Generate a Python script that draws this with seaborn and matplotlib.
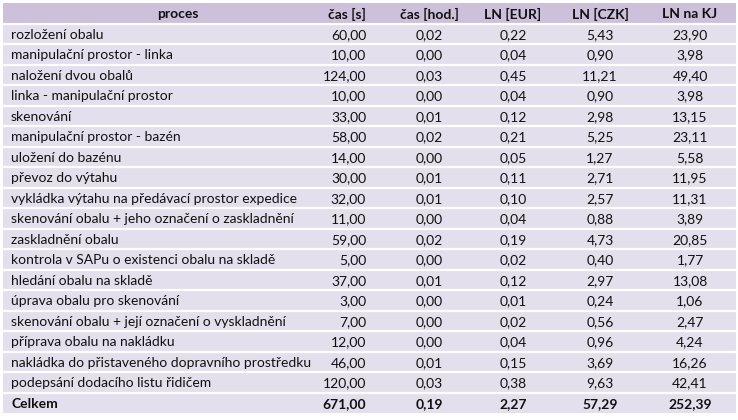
import numpy as np
import pandas as pd
import matplotlib
matplotlib.use("Agg")
import matplotlib.pyplot as plt
from matplotlib.colors import ListedColormap
import seaborn as sns

# table data
columns = ["proces", "čas [s]", "čas [hod.]", "LN [EUR]", "LN [CZK]", "LN na KJ"]
procesy = [
    "rozložení obalu",
    "manipulační prostor - linka",
    "naložení dvou obalů",
    "linka - manipulační prostor",
    "skenování",
    "manipulační prostor - bazén",
    "uložení do bazénu",
    "převoz do výtahu",
    "vykládka výtahu na předávací prostor expedice",
    "skenování obalu + jeho označení o zaskladnění",
    "zaskladnění obalu",
    "kontrola v SAPu o existenci obalu na skladě",
    "hledání obalu na skladě",
    "úprava obalu pro skenování",
    "skenování obalu + její označení o vyskladnění",
    "příprava obalu na nakládku",
    "nakládka do přistaveného dopravního prostředku",
    "podepsání dodacího listu řidičem",
]
cas_s = [60, 10, 124, 10, 33, 58, 14, 30, 32, 11, 59, 5, 37, 3, 7, 12, 46, 120]
cas_hod = [0.02, 0.00, 0.03, 0.00, 0.01, 0.02, 0.00, 0.01, 0.01, 0.00, 0.02, 0.00, 0.01, 0.00, 0.00, 0.00, 0.01, 0.03]
ln_eur = [0.22, 0.04, 0.45, 0.04, 0.12, 0.21, 0.05, 0.11, 0.10, 0.04, 0.19, 0.02, 0.12, 0.01, 0.02, 0.04, 0.15, 0.38]
ln_czk = [5.43, 0.90, 11.21, 0.90, 2.98, 5.25, 1.27, 2.71, 2.57, 0.88, 4.73, 0.40, 2.97, 0.24, 0.56, 0.96, 3.69, 9.63]
ln_kj = [23.90, 3.98, 49.40, 3.98, 13.15, 23.11, 5.58, 11.95, 11.31, 3.89, 20.85, 1.77, 13.08, 1.06, 2.47, 4.24, 16.26, 42.41]
celkem = ["Celkem", 671.00, 0.19, 2.27, 57.29, 252.39]

df = pd.DataFrame({
    columns[0]: procesy, columns[1]: cas_s, columns[2]: cas_hod,
    columns[3]: ln_eur, columns[4]: ln_czk, columns[5]: ln_kj,
})
df.loc[len(df)] = celkem

def fmt(v):
    return f"{v:.2f}".replace(".", ",")

sns.set_theme(style="white")
plt.rcParams['font.family'] = ['Lato', 'DejaVu Sans']

W, H = 738, 420
fig = plt.figure(figsize=(W / 100, H / 100), dpi=100)
fig.patch.set_facecolor("white")

# table extent in pixels
left, right, top, bottom = 3, 736, 3, 413
nrows = len(df) + 1

# background bands via heatmap (header = 1, body = 0)
ax_bg = fig.add_axes([left / W, 1 - bottom / H, (right - left) / W, (bottom - top) / H])
shade = np.zeros((nrows, 1))
shade[0, 0] = 1
sns.heatmap(shade, ax=ax_bg, cmap=ListedColormap(["#E4DFEC", "#CCC0DA"]),
            cbar=False, xticklabels=False, yticklabels=False)
for i in range(1, nrows):
    ax_bg.axhline(i, color="white", lw=1.6)
ax_bg.set_axis_off()

# text layer in pixel coordinates
ax = fig.add_axes([0, 0, 1, 1])
ax.set_xlim(0, W)
ax.set_ylim(H, 0)
ax.set_axis_off()
ax.patch.set_alpha(0)

row_h = (bottom - top) / nrows
fs = 10
txt = "#111111"

col_x = [178, 366, 429, 513, 600, 690]
head_ha = ["center", "right", "center", "center", "center", "center"]
yc = top + row_h / 2
for c, name in enumerate(columns):
    ax.text(col_x[c], yc, name, ha=head_ha[c], va="center_baseline",
            fontsize=fs, fontweight="bold", color=txt)

for r, row in df.iterrows():
    yc = top + row_h * (r + 1.5)
    bold = "bold" if r == len(df) - 1 else "normal"
    ax.text(11, yc, row[columns[0]], ha="left", va="center_baseline",
            fontsize=fs, fontweight=bold, color=txt)
    ax.text(col_x[1], yc, fmt(row[columns[1]]), ha="right", va="center_baseline",
            fontsize=fs, fontweight=bold, color=txt)
    for c in range(2, 6):
        ax.text(col_x[c], yc, fmt(row[columns[c]]), ha="center", va="center_baseline",
                fontsize=fs, fontweight=bold, color=txt)

fig.savefig("out.png", dpi=100, facecolor="white")
